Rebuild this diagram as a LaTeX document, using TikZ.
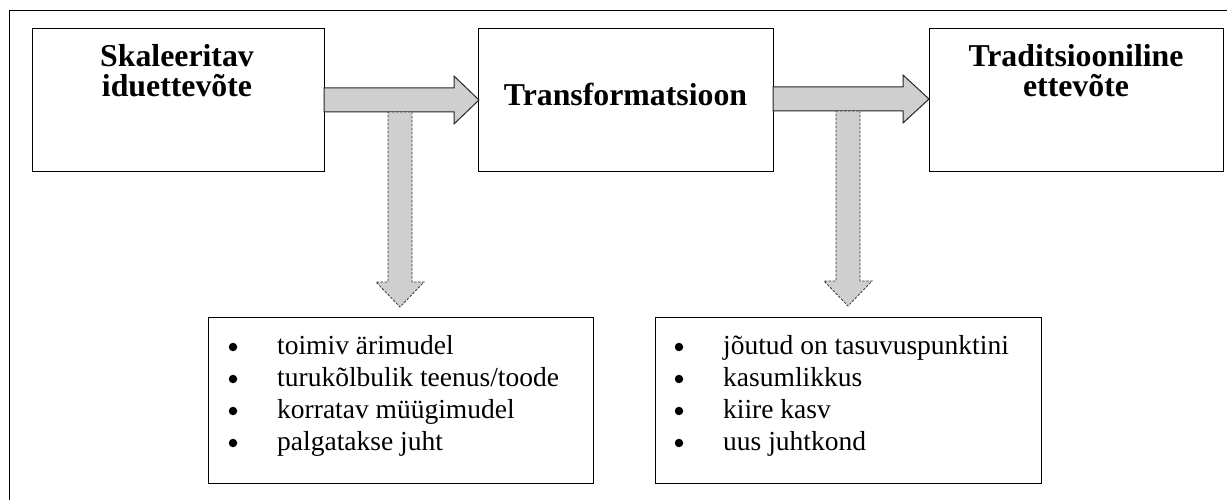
\documentclass[tikz,border=0pt]{standalone}
\usepackage{fontspec}
\setmainfont{Liberation Serif}
\definecolor{arrowgray}{RGB}{208,207,208}
\begin{document}
\begin{tikzpicture}[x=1pt,y=-1pt,
  box/.style={draw=black,line width=1pt,fill=white},
  bigarrow/.style={draw=black!85,line width=1pt,fill=arrowgray,line join=miter},
  downarrow/.style={draw=black!80,line width=0.8pt,fill=arrowgray,dash pattern=on 2.5pt off 1.5pt},
  title/.style={font=\fontsize{31.8}{30}\selectfont\bfseries,anchor=base,inner sep=0pt},
  item/.style={font=\fontsize{27.5}{32}\selectfont,anchor=base west,inner sep=0pt},
  bul/.style={circle,fill=black,inner sep=0pt,minimum size=8.5pt}]
\useasboundingbox (0,0) rectangle (1227,500);
% outer frame
\draw[line width=1pt,black] (9,500) -- (9,11) -- (1228,11);
% top boxes
\draw[box] (32,29) rectangle (324,172);
\draw[box] (478,29) rectangle (773,172);
\draw[box] (929,29) rectangle (1223,172);
\node[title] (t1a) at (177,67) {Skaleeritav};
\node[title] (t1b) at (177,97) {iduettevõte};
\node[title] (t2) at (625.5,106) {Transformatsioon};
\node[title] (t3a) at (1076,67) {Traditsiooniline};
\node[title] (t3b) at (1076,97) {ettevõte};
% horizontal arrows
\draw[bigarrow] (324,88) -- (454,88) -- (454,76) -- (479,100) -- (454,124) -- (454,112) -- (324,112) -- cycle;
\draw[bigarrow] (773,87) -- (903,87) -- (903,75) -- (929,99) -- (903,123) -- (903,111) -- (773,111) -- cycle;
% down arrows
\draw[downarrow] (388,112) -- (412,112) -- (412,282) -- (424,282) -- (400,307) -- (376,282) -- (388,282) -- cycle;
\draw[downarrow] (836,111) -- (860,111) -- (860,281) -- (872,281) -- (848,306) -- (824,281) -- (836,281) -- cycle;
% bottom boxes
\draw[box] (208,317) rectangle (593,483);
\draw[box] (655,317) rectangle (1041,483);
\foreach \y/\t [count=\i] in {354/{toimiv ärimudel},386/{turukõlbulik teenus/toode},418/{korratav müügimudel},450/{palgatakse juht}}{
  \node[bul] (lb\i) at (233,\y-7) {};
  \node[item] (li\i) at (277,\y) {\t};
}
\foreach \y/\t [count=\i] in {354/{jõutud on tasuvuspunktini},386/{kasumlikkus},418/{kiire kasv},450/{uus juhtkond}}{
  \node[bul] (rb\i) at (679,\y-7) {};
  \node[item] (ri\i) at (723,\y) {\t};
}
\end{tikzpicture}
\end{document}
